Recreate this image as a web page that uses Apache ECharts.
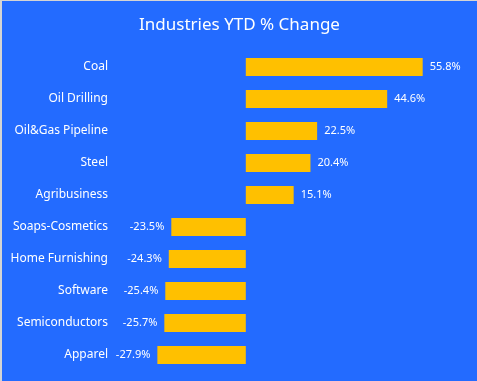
<!DOCTYPE html>
<html>
<head>
<meta charset="utf-8">
<script src="https://cdn.jsdelivr.net/npm/echarts@6/dist/echarts.min.js"></script>
<style>
html,body{margin:0;padding:0;background:#ffffff;}
#wrap{position:absolute;left:0;top:0;width:477px;height:381px;box-sizing:border-box;border-left:2px solid #d4d4d4;border-top:1px solid #d4d4d4;}
#chart{width:475px;height:380px;}
</style>
</head>
<body>
<div id="wrap"><div id="chart"></div></div>
<script>
const categories = ['Coal','Oil Drilling','Oil&Gas Pipeline','Steel','Agribusiness','Soaps-Cosmetics','Home Furnishing','Software','Semiconductors','Apparel'];
const values = [55.8, 44.6, 22.5, 20.4, 15.1, -23.5, -24.3, -25.4, -25.7, -27.9];
const titleText = 'Industries YTD % Change';

const chart = echarts.init(document.getElementById('chart'), null, {renderer:'canvas'});
const font = '"Noto Sans", "Open Sans", sans-serif';
chart.setOption({
  backgroundColor: '#236bff',
  animation: false,
  title: {
    text: titleText,
    left: 'center',
    top: 11,
    textStyle: {color:'#ffffff', fontSize:17, fontWeight:'normal', fontFamily: font}
  },
  grid: {left: 117, right: 41, top: 50, bottom: 10, containLabel: false},
  xAxis: {
    type: 'value', min: -40, max: 60, interval: 20,
    show: false,
    splitLine: {show:false}
  },
  yAxis: {
    type: 'category',
    data: categories,
    inverse: true,
    axisLine: {show:false},
    axisTick: {show:false},
    axisLabel: {color:'#ffffff', fontSize:12, fontFamily: font, margin: 11}
  },
  series: [{
    type: 'bar',
    barWidth: 18,
    itemStyle: {color:'#ffc000'},
    data: values.map(v => ({
      value: v,
      label: {show:true, position: v >= 0 ? 'right' : 'left', distance: 7,
        color:'#ffffff', fontSize:11, fontFamily: font,
        formatter: p => p.value.toFixed(1) + '%'}
    }))
  }]
});
</script>
</body>
</html>
